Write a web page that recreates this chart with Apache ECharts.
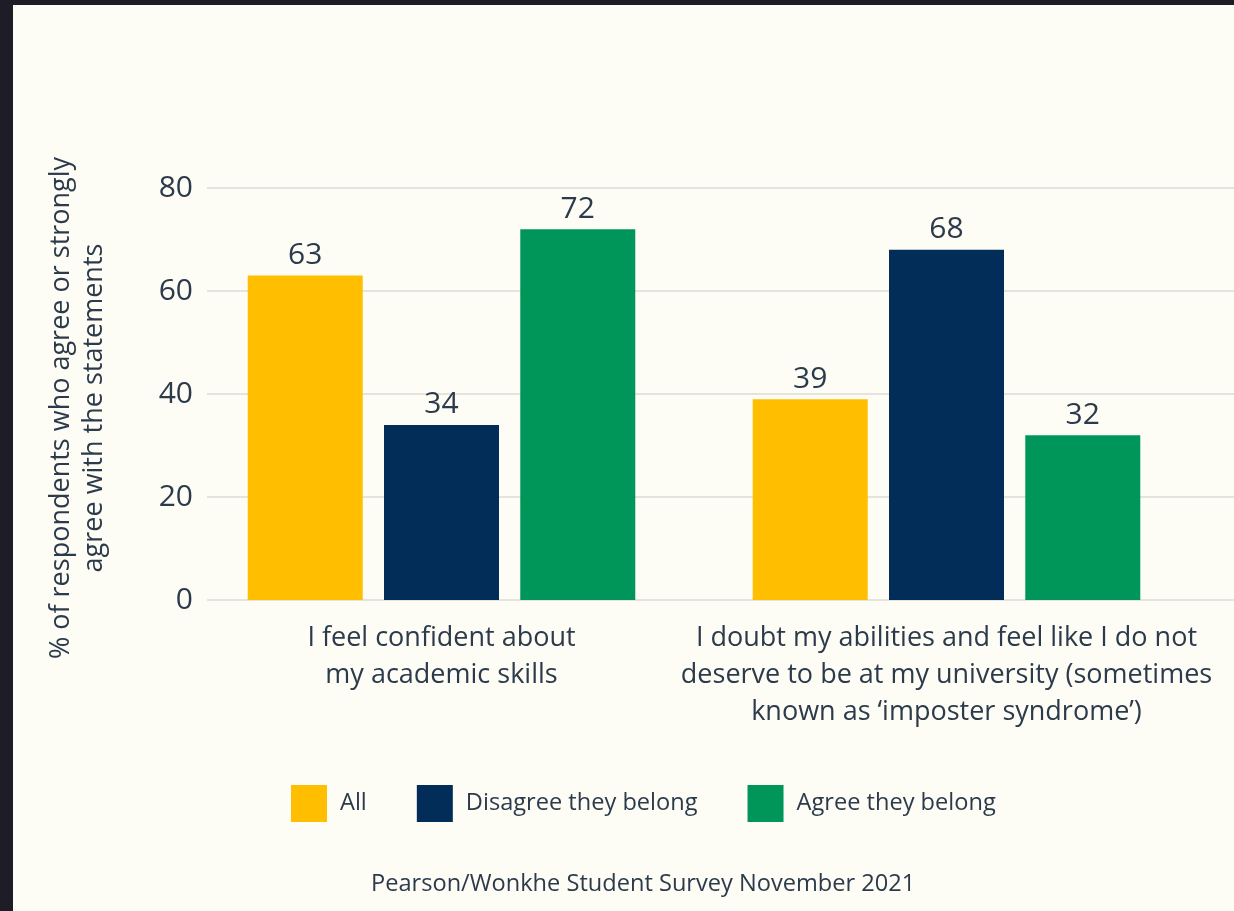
<!DOCTYPE html>
<html>
<head>
<meta charset="utf-8">
<script src="https://cdn.jsdelivr.net/npm/echarts@6/dist/echarts.min.js"></script>
<style>
  html, body { margin: 0; padding: 0; width: 1234px; height: 911px; background: #1e1d27; overflow: hidden; }
  #chart { position: absolute; left: 13px; top: 5px; width: 1221px; height: 906px; background: #fdfcf5; }
</style>
</head>
<body>
<div id="chart"></div>
<script>
// Statements asked in the survey (line breaks as shown under the axis)
const categories = [
  'I feel confident about\nmy academic skills',
  'I doubt my abilities and feel like I do not\ndeserve to be at my university (sometimes\nknown as \u2018imposter syndrome\u2019)'
];

// % of respondents who agree or strongly agree
const seriesNames = ['All', 'Disagree they belong', 'Agree they belong'];
const allValues = [63, 39];
const disagreeValues = [34, 68];
const agreeValues = [72, 32];

const yTicks = [0, 20, 40, 60, 80];
const colors = ['#FFBE00', '#022D58', '#00965A'];

const FONT = '"Open Sans", "Noto Sans", sans-serif';
const TEXT = '#2c3b4c';

const chart = echarts.init(document.getElementById('chart'), null, { renderer: 'canvas' });

const valueSets = [allValues, disagreeValues, agreeValues];

const option = {
  backgroundColor: '#fdfcf5',
  textStyle: { fontFamily: FONT },
  animation: false,
  grid: [
    // grid carrying the value scale and gridlines
    { left: 194, right: 0, top: 183, bottom: 311 },
    // grid carrying the grouped bars
    { left: 176, width: 1010, top: 183, bottom: 311 }
  ],
  legend: {
    data: seriesNames,
    left: 273,
    top: 775,
    itemWidth: 36,
    itemHeight: 37,
    itemGap: 50,
    icon: 'rect',
    textStyle: { fontFamily: FONT, fontSize: 23.6, color: TEXT, padding: [0, 0, 0, 8] }
  },
  xAxis: [
    { gridIndex: 0, type: 'value', show: false, min: 0, max: 1 },
    {
      gridIndex: 1,
      type: 'category',
      data: categories,
      axisLine: { show: false },
      axisTick: { show: false },
      axisLabel: {
        interval: 0,
        margin: 20,
        fontFamily: FONT,
        fontSize: 27,
        lineHeight: 37,
        color: TEXT,
        align: 'center',
        verticalAlign: 'top'
      }
    }
  ],
  yAxis: [
    {
      gridIndex: 0,
      type: 'value',
      min: yTicks[0],
      max: yTicks[yTicks.length - 1],
      interval: yTicks[1] - yTicks[0],
      axisLine: { show: false },
      axisTick: { show: false },
      axisLabel: { margin: 14, fontFamily: FONT, fontSize: 30, color: TEXT },
      splitLine: { lineStyle: { color: '#dcdbd4', width: 1.5 } },
      name: '% of respondents who agree or strongly\nagree with the statements',
      nameLocation: 'middle',
      nameRotate: 90,
      nameGap: 96,
      nameTextStyle: { fontFamily: FONT, fontSize: 27, lineHeight: 33, color: TEXT, align: 'center', padding: [0, 28, 0, 0] }
    },
    {
      gridIndex: 1,
      type: 'value',
      min: yTicks[0],
      max: yTicks[yTicks.length - 1],
      show: false,
      splitLine: { show: false }
    }
  ],
  series: seriesNames.map((name, i) => ({
    name,
    type: 'bar',
    xAxisIndex: 1,
    yAxisIndex: 1,
    data: valueSets[i],
    barWidth: 115,
    barGap: '18.5%',
    itemStyle: { color: colors[i] },
    label: {
      show: true,
      position: 'top',
      distance: 5,
      fontFamily: FONT,
      fontSize: 30,
      color: TEXT
    }
  })),
  graphic: [
    {
      type: 'text',
      left: 358,
      top: 867,
      style: {
        text: 'Pearson/Wonkhe Student Survey November 2021',
        fontFamily: FONT,
        fontSize: 23.6,
        fill: TEXT
      }
    }
  ]
};

chart.setOption(option);
</script>
</body>
</html>
